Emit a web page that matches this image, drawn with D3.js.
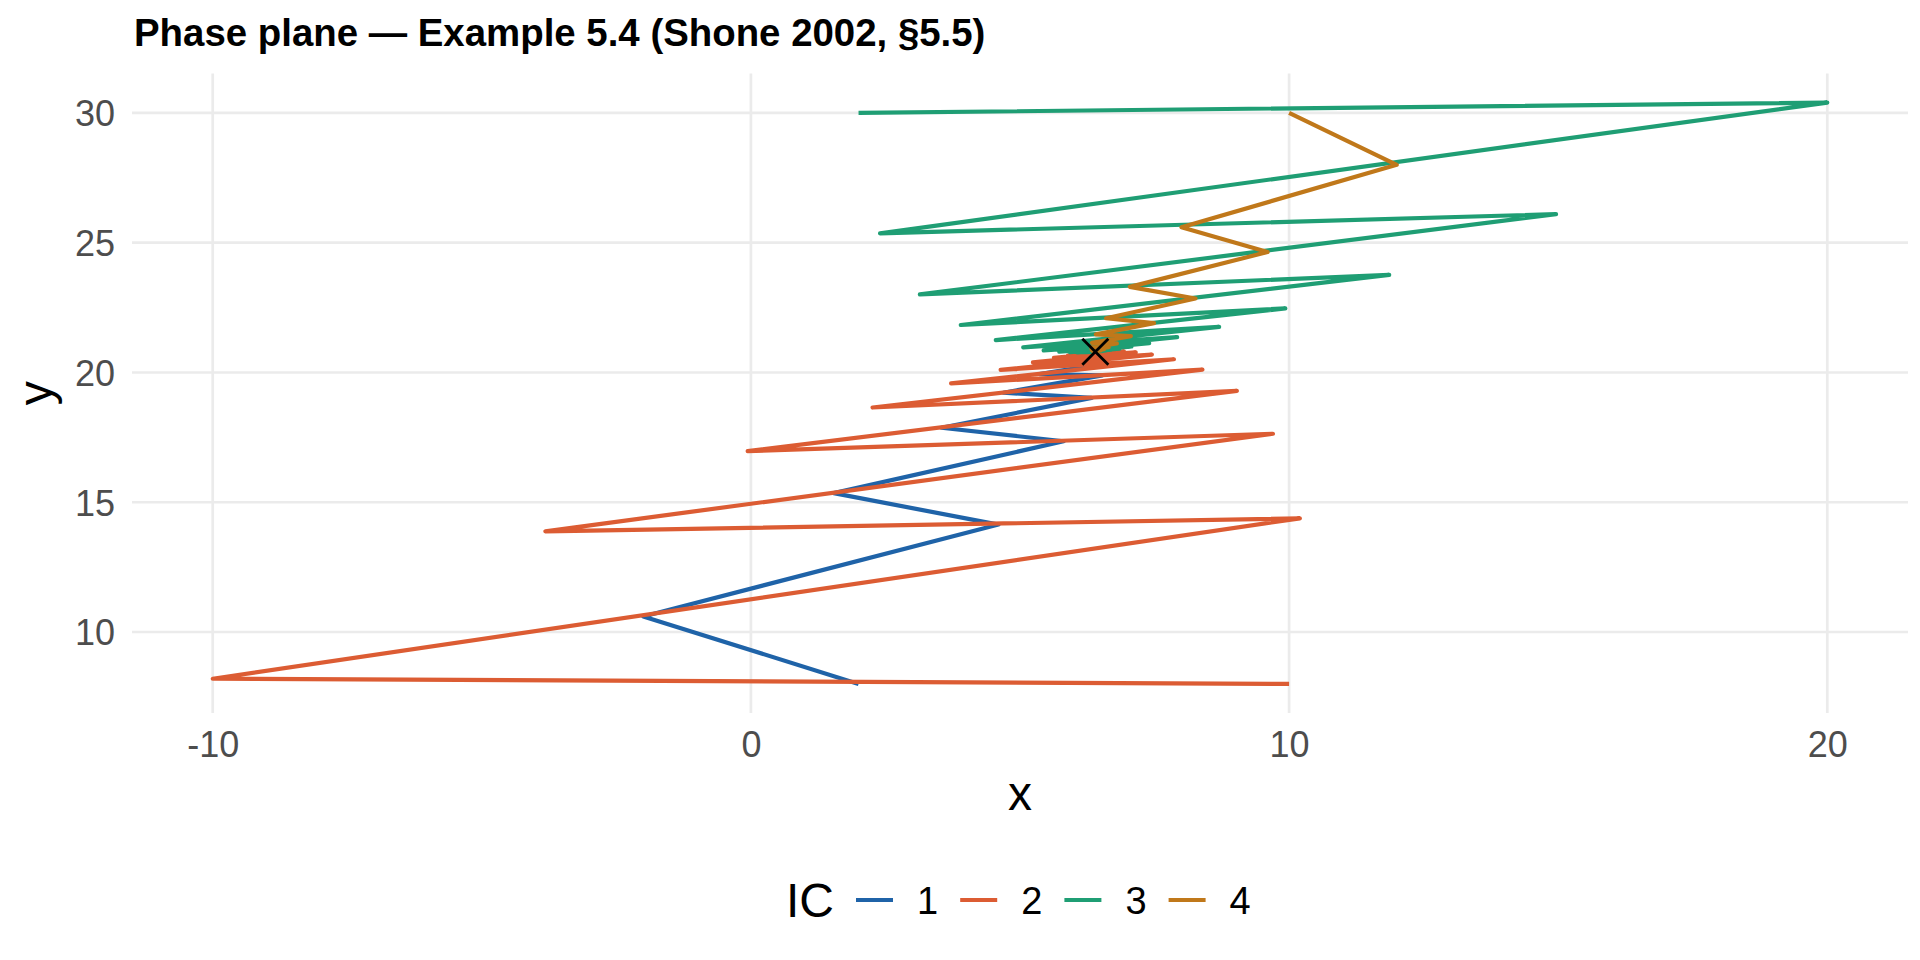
<!DOCTYPE html>
<html lang="en">
<head>
  <meta charset="UTF-8">
  <title>Phase plane - Example 5.4</title>
  <script src="https://cdn.jsdelivr.net/npm/d3@7"></script>
  <style>
    body { margin: 0; background: #fff; }
    svg { display: block; font-family: "Liberation Sans", Arial, sans-serif; }
    .grid line { stroke: #ebebeb; stroke-width: 2.7px; }
    .tick-label { fill: #4d4d4d; font-size: 36px; }
    .axis-title { fill: #000; font-size: 48px; }
    .legend-text { fill: #000; font-size: 38px; }
  </style>
</head>
<body>
<svg width="1920" height="960"></svg>
<script>
  // trajectories, one pair of arrays per initial condition
  const ic1X = [2, -2, 4.6, 1.54, 5.81, 3.54, 6.33, 4.69, 6.53, 5.36, 6.58, 5.76, 6.57, 6.00, 6.54, 6.14, 6.51, 6.24, 6.48, 6.29, 6.46];
  const ic1Y = [8, 10.6, 14.14, 15.35, 17.35, 17.87, 19.02, 19.22, 19.89, 19.94, 20.34, 20.33, 20.57, 20.54, 20.69, 20.66, 20.75, 20.72, 20.78, 20.75, 20.79];

  const ic2X = [10, -10, 10.2, -3.82, 9.70, -0.06, 9.03, 2.26, 8.39, 3.72, 7.86, 4.64, 7.45, 5.24, 7.15, 5.63, 6.93, 5.89, 6.77, 6.05, 6.65, 6.17, 6.58, 6.24, 6.52, 6.29];
  const ic2Y = [8, 8.2, 14.38, 13.88, 17.64, 16.97, 19.29, 18.65, 20.11, 19.58, 20.51, 20.10, 20.69, 20.39, 20.78, 20.56, 20.81, 20.65, 20.82, 20.71, 20.82, 20.74, 20.82, 20.76, 20.81, 20.78];

  const ic3X = [2, 20, 2.4, 14.96, 3.14, 11.86, 3.90, 9.93, 4.55, 8.70, 5.06, 7.92, 5.44, 7.40, 5.73, 7.07, 5.93, 6.85, 6.07, 6.70, 6.17, 6.60, 6.24, 6.54, 6.29, 6.49];
  const ic3Y = [30, 30.4, 25.36, 26.10, 23.01, 23.76, 21.83, 22.47, 21.25, 21.76, 20.97, 21.36, 20.85, 21.13, 20.80, 21.00, 20.78, 20.92, 20.77, 20.88, 20.78, 20.85, 20.78, 20.83, 20.79, 20.82];

  const ic4X = [10, 12, 8, 9.6, 7.04, 8.26, 6.60, 7.49, 6.41, 7.06, 6.34, 6.80, 6.32, 6.65, 6.33, 6.56, 6.34, 6.50, 6.36, 6.46, 6.37];
  const ic4Y = [30, 28, 25.6, 24.64, 23.30, 22.85, 22.09, 21.90, 21.47, 21.40, 21.14, 21.12, 20.97, 20.98, 20.89, 20.90, 20.84, 20.85, 20.82, 20.83, 20.81];

  const icNames = ['1', '2', '3', '4'];
  const icColors = ['#1f63a8', '#dc5c33', '#1f9e74', '#c0781a'];
  const fixedPoint = [6.4, 20.8];

  const xTicks = [-10, 0, 10, 20];
  const yTicks = [10, 15, 20, 25, 30];

  const titleText = 'Phase plane \u2014 Example 5.4 (Shone 2002, \u00a75.5)';

  const series = [
    { name: icNames[0], xs: ic1X, ys: ic1Y },
    { name: icNames[1], xs: ic2X, ys: ic2Y },
    { name: icNames[2], xs: ic3X, ys: ic3Y },
    { name: icNames[3], xs: ic4X, ys: ic4Y }
  ].map(s => ({ name: s.name, pts: s.xs.map((x, i) => [x, s.ys[i]]) }));

  const svg = d3.select('svg');
  const panel = { left: 132, right: 1908, top: 73.5, bottom: 713 };

  // ggplot style 5% expansion on both axes
  const allX = [].concat(ic1X, ic2X, ic3X, ic4X);
  const allY = [].concat(ic1Y, ic2Y, ic3Y, ic4Y);
  const expand = ext => { const d = (ext[1] - ext[0]) * 0.05; return [ext[0] - d, ext[1] + d]; };

  const xScale = d3.scaleLinear().domain(expand(d3.extent(allX))).range([panel.left, panel.right]);
  const yScale = d3.scaleLinear().domain(expand(d3.extent(allY))).range([panel.bottom, panel.top]);

  // grid lines
  const grid = svg.append('g').attr('class', 'grid');
  grid.selectAll('line.gx').data(xTicks).join('line')
    .attr('class', 'gx')
    .attr('x1', d => xScale(d)).attr('x2', d => xScale(d))
    .attr('y1', panel.top).attr('y2', panel.bottom);
  grid.selectAll('line.gy').data(yTicks).join('line')
    .attr('class', 'gy')
    .attr('x1', panel.left).attr('x2', panel.right)
    .attr('y1', d => yScale(d)).attr('y2', d => yScale(d));

  // axes (labels only, no domain line or ticks); plain hyphen for negatives like R
  const fmt = d => String(d);
  const xAxis = svg.append('g')
    .attr('transform', `translate(0,${panel.bottom})`)
    .call(d3.axisBottom(xScale).tickValues(xTicks).tickSize(0).tickPadding(0).tickFormat(fmt));
  xAxis.select('.domain').remove();
  xAxis.selectAll('text')
    .attr('class', 'tick-label')
    .attr('dy', null)
    .attr('y', 44)
    .attr('font-size', null).attr('font-family', null).attr('fill', null);

  const yAxis = svg.append('g')
    .attr('transform', `translate(${panel.left},0)`)
    .call(d3.axisLeft(yScale).tickValues(yTicks).tickSize(0).tickPadding(0).tickFormat(fmt));
  yAxis.select('.domain').remove();
  yAxis.selectAll('text')
    .attr('class', 'tick-label')
    .attr('x', -17)
    .attr('dy', '0.36em')
    .attr('font-size', null).attr('font-family', null).attr('fill', null);

  // axis titles
  svg.append('text')
    .attr('class', 'axis-title')
    .attr('x', (panel.left + panel.right) / 2)
    .attr('y', 810)
    .attr('text-anchor', 'middle')
    .text('x');

  svg.append('text')
    .attr('class', 'axis-title')
    .attr('transform', `translate(52,${(panel.top + panel.bottom) / 2}) rotate(-90)`)
    .attr('text-anchor', 'middle')
    .text('y');

  // title
  svg.append('text')
    .attr('x', 134)
    .attr('y', 46)
    .attr('font-size', 38.4)
    .attr('font-weight', 'bold')
    .attr('fill', '#000')
    .text(titleText);

  // trajectories
  const line = d3.line().x(d => xScale(d[0])).y(d => yScale(d[1]));
  svg.append('g').selectAll('path').data(series).join('path')
    .attr('d', d => line(d.pts))
    .attr('fill', 'none')
    .attr('stroke', (d, i) => icColors[i])
    .attr('stroke-width', 4.2)
    .attr('stroke-linejoin', 'round');

  // fixed point marker (shape 4 cross)
  const fx = xScale(fixedPoint[0]), fy = yScale(fixedPoint[1]), h = 13;
  svg.append('path')
    .attr('d', `M${fx - h},${fy - h}L${fx + h},${fy + h}M${fx - h},${fy + h}L${fx + h},${fy - h}`)
    .attr('stroke', '#000')
    .attr('stroke-width', 2.8)
    .attr('fill', 'none');

  // legend at the bottom
  const legend = svg.append('g').attr('transform', 'translate(0,900)');
  legend.append('text')
    .attr('class', 'axis-title')
    .attr('x', 786)
    .attr('y', 17)
    .text('IC');
  const items = legend.selectAll('g.item').data(icNames).join('g')
    .attr('class', 'item')
    .attr('transform', (d, i) => `translate(${856 + i * 104.2},0)`);
  items.append('line')
    .attr('x1', 0).attr('x2', 37)
    .attr('y1', 0).attr('y2', 0)
    .attr('stroke', (d, i) => icColors[i])
    .attr('stroke-width', 4.2);
  items.append('text')
    .attr('class', 'legend-text')
    .attr('x', 61)
    .attr('y', 13.5)
    .text(d => d);
</script>
</body>
</html>
